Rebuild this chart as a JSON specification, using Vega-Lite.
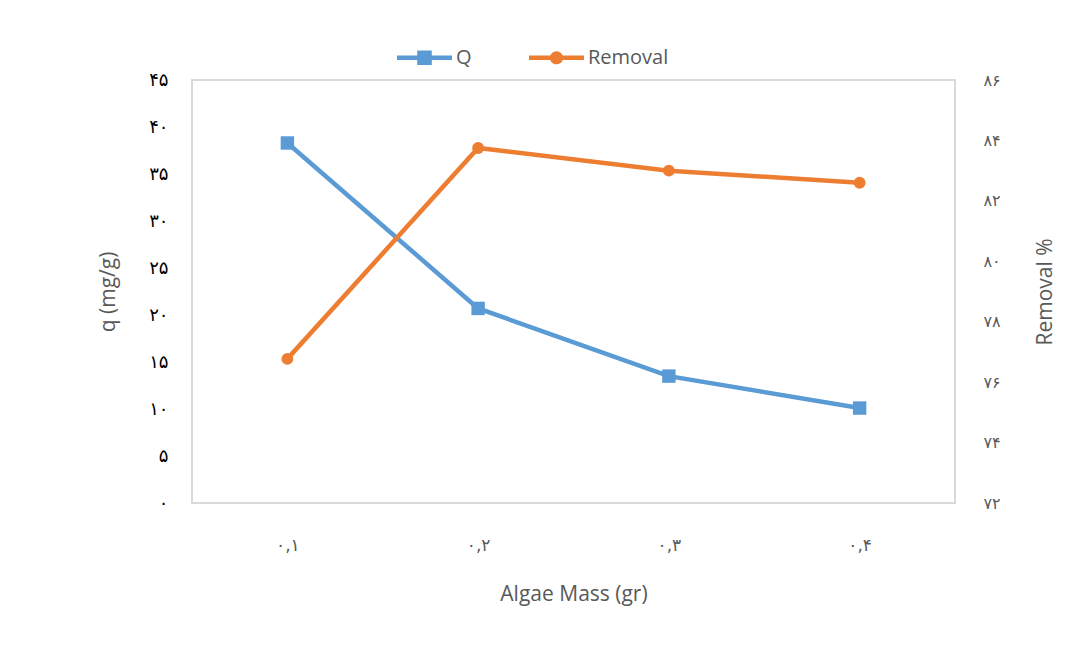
{
  "$schema": "https://vega.github.io/schema/vega-lite/v6.json",
  "width": 763,
  "height": 423,
  "autosize": "none",
  "padding": {"left": 192, "top": 80, "right": 118, "bottom": 143},
  "background": "white",
  "config": {
    "view": {"stroke": "#d9d9d9", "strokeWidth": 2},
    "axis": {"domain": false, "ticks": false, "grid": false, "labelFont": "DejaVu Sans", "titleFont": "Open Sans", "titleFontWeight": "normal", "titleColor": "#595959", "titleFontSize": 21},
    "legend": {"labelFont": "Open Sans", "labelFontSize": 20, "labelColor": "#595959"}
  },
  "data": {
    "values": [
      {"mass": "۰,۱", "q": 38.3, "removal": 76.77},
      {"mass": "۰,۲", "q": 20.7, "removal": 83.75},
      {"mass": "۰,۳", "q": 13.5, "removal": 83.0},
      {"mass": "۰,۴", "q": 10.1, "removal": 82.6}
    ]
  },
  "encoding": {
    "x": {
      "field": "mass",
      "type": "ordinal",
      "sort": null,
      "scale": {"type": "point", "padding": 0.5},
      "axis": {"title": "Algae Mass (gr)", "labelAngle": 0, "labelPadding": 34, "labelFontSize": 17, "labelColor": "#595959", "titlePadding": 30}
    }
  },
  "layer": [
    {
      "encoding": {
        "y": {
          "field": "q",
          "type": "quantitative",
          "scale": {"domain": [0, 45], "nice": false},
          "axis": {
            "title": "q (mg/g)",
            "values": [0, 5, 10, 15, 20, 25, 30, 35, 40, 45],
            "labelFontSize": 18,
            "labelColor": "#000000",
            "labelPadding": 24,
            "titlePadding": 30,
            "labelExpr": "replace(replace(replace(replace(replace(replace(replace(replace(replace(replace(datum.label,'0','۰'),'1','۱'),'2','۲'),'3','۳'),'4','۴'),'5','۵'),'6','۶'),'7','۷'),'8','۸'),'9','۹')"
          }
        }
      },
      "layer": [
        {
          "mark": {"type": "line", "strokeWidth": 4.5},
          "encoding": {
            "color": {
              "datum": "Q",
              "scale": {"domain": ["Q", "Removal"], "range": ["#5b9bd5", "#ed7d31"]},
              "legend": {
                "title": null,
                "orient": "none",
                "direction": "horizontal",
                "legendX": 205,
                "legendY": -50,
                "padding": 0,
                "symbolSize": 3025,
                "labelOffset": 4,
                "columnPadding": 57,
                "encode": {
                  "symbols": {
                    "update": {
                      "shape": {"signal": "datum.value === 'Q' ? 'M-1,-0.08H1V0.08H-1Z M-0.265,-0.265H0.265V0.265H-0.265Z' : 'M-1,-0.08H1V0.08H-1Z M-0.24,0A0.24,0.24 0 1,1 0.24,0A0.24,0.24 0 1,1 -0.24,0Z'"},
                      "fill": {"scale": "color", "field": "value"},
                      "strokeWidth": {"value": 0},
                      "opacity": {"value": 1}
                    }
                  }
                }
              }
            }
          }
        },
        {
          "mark": {"type": "point", "shape": "square", "filled": true, "opacity": 1, "color": "#5b9bd5", "size": 180}
        }
      ]
    },
    {
      "encoding": {
        "y": {
          "field": "removal",
          "type": "quantitative",
          "scale": {"domain": [72, 86], "nice": false, "zero": false},
          "axis": {
            "orient": "right",
            "title": "Removal %",
            "titleAngle": -90,
            "values": [72, 74, 76, 78, 80, 82, 84, 86],
            "labelFontSize": 16,
            "labelColor": "#595959",
            "labelPadding": 28,
            "titlePadding": 55,
            "labelExpr": "replace(replace(replace(replace(replace(replace(replace(replace(replace(replace(datum.label,'0','۰'),'1','۱'),'2','۲'),'3','۳'),'4','۴'),'5','۵'),'6','۶'),'7','۷'),'8','۸'),'9','۹')"
          }
        }
      },
      "layer": [
        {
          "mark": {"type": "line", "strokeWidth": 4.5},
          "encoding": {"color": {"datum": "Removal"}}
        },
        {
          "mark": {"type": "point", "shape": "circle", "filled": true, "opacity": 1, "color": "#ed7d31", "size": 140}
        }
      ]
    }
  ],
  "resolve": {"scale": {"y": "independent"}}
}
